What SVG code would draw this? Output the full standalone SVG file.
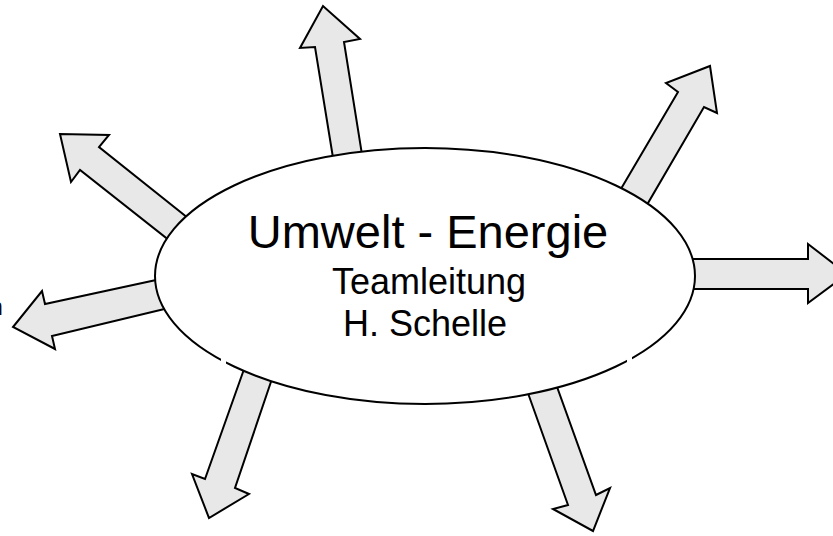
<svg xmlns="http://www.w3.org/2000/svg" width="833" height="536" viewBox="0 0 833 536">
  <style>
    .arrow { fill: #e8e8e8; stroke: #000; stroke-width: 2; stroke-linejoin: miter; }
    .hub { fill: #fff; stroke: #000; stroke-width: 2; }
    .t { font-family: "Liberation Sans", Arial, sans-serif; fill: #000; text-anchor: middle; }
  </style>
  <rect width="833" height="536" fill="#fff"/>
  <g id="connectors">
    <polygon class="arrow" points="335,170 315,47 300,48 323,6 360,39 344,42 364,167"/>
    <polygon class="arrow" points="615,199 678,92 666,83 710,66 717,113 704,107 641,215"/>
    <polygon class="arrow" points="680,259 808,259 808,244 847,274 808,303 808,289 680,289"/>
    <polygon class="arrow" points="198,226 99,147 109,135 60,134 71,182 80,170 179,248"/>
    <polygon class="arrow" points="170,277 45,304 42,291 13,327 55,349 52,336 177,306"/>
    <polygon class="arrow" points="248,358 205,479 192,474 209,518 249,494 235,488 276,367"/>
    <polygon class="arrow" points="524,382 568,505 553,509 593,531 610,488 596,495 552,373"/>
  </g>
  <g id="hub">
    <ellipse class="hub" cx="425" cy="276" rx="270" ry="128"/>
    <rect x="221" y="356" width="5" height="8" fill="#fff"/>
    <rect x="627" y="355" width="5" height="8" fill="#fff"/>
    <text class="t" x="428" y="248" font-size="47">Umwelt - Energie</text>
    <text class="t" x="429" y="294" font-size="36">Teamleitung</text>
    <text class="t" x="425" y="336" font-size="36">H. Schelle</text>
  </g>
  <g id="cut-label">
    <text x="-10.5" y="315" font-size="24" font-family="Liberation Sans, Arial, sans-serif">n</text>
  </g>
</svg>
